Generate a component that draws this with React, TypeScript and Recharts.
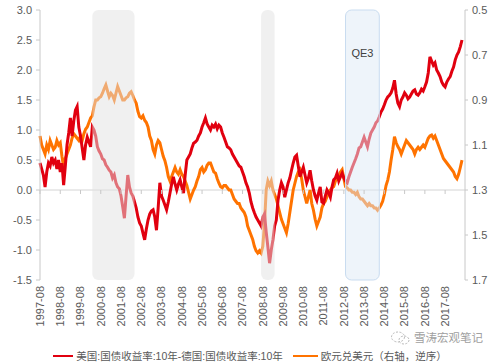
import { LineChart, Line, XAxis, YAxis, ReferenceArea, ReferenceLine, Legend } from "recharts";

// monthly values, starting 1997-08
const START_YEAR = 1997;
const START_MONTH = 8;

// 美国10年国债收益率 - 德国10年国债收益率 (left axis, %)
const spread = [
  0.45, 0.35, 0.25, 0.05, 0.3, 0.45, 0.4, 0.55, 0.45, 0.5, 0.35, 0.5,
  0.3, 0.45, 0.08, 0.4, 0.75, 0.95, 1.2, 0.9, 1.15, 1.33, 1.39, 1.05,
  0.9, 0.7, 0.5, 0.75, 0.88, 0.8, 0.72, 1.05, 1.0, 0.9, 0.72, 0.65,
  0.6, 0.52, 0.5, 0.42, 0.38, 0.33, 0.3, 0.2, 0.25, 0.12, 0.05, 0.02,
  -0.1, -0.28, -0.47, -0.1, 0.25, 0.05, -0.05, -0.1, -0.2, -0.3, -0.45, -0.55,
  -0.6, -0.72, -0.83, -0.65, -0.5, -0.4, -0.35, -0.33, -0.45, -0.67, -0.3, 0.12,
  -0.1, -0.17, -0.25, -0.33, -0.2, -0.05, 0.1, 0.22, 0.1, 0.0, 0.1, 0.17,
  0.05, -0.05, 0.25, 0.5, 0.55, 0.6, 0.7, 0.78, 0.8, 0.83, 0.9, 0.95,
  1.05, 1.12, 1.2, 1.1, 1.05, 1.0, 1.08, 1.05, 1.1, 1.02, 1.08, 1.05,
  0.95, 0.88, 0.8, 0.72, 0.7, 0.67, 0.6, 0.55, 0.5, 0.45, 0.4, 0.38,
  0.3, 0.22, 0.12, 0.05, -0.05, -0.2, -0.3, -0.38, -0.45, -0.5, -0.55, -0.6,
  -0.45, -0.4, -0.7, -0.95, -1.22, -1.0, -0.83, -0.6, -0.5, -0.17, 0.0, 0.12,
  0.05, -0.12, 0.0, 0.12, 0.2, 0.33, 0.45, 0.55, 0.58, 0.4, 0.22, 0.3,
  0.38, 0.25, 0.12, 0.2, 0.33, 0.15, 0.0, -0.1, -0.17, -0.05, 0.05, -0.2,
  -0.22, -0.1, 0.0, -0.05, -0.12, 0.05, 0.17, 0.2, 0.28, 0.15, 0.22, 0.28,
  0.2, 0.15, 0.12, 0.22, 0.3, 0.38, 0.45, 0.52, 0.6, 0.7, 0.72, 0.8,
  0.88, 0.8, 0.72, 0.85, 0.95, 1.0, 1.05, 1.12, 1.15, 1.22, 1.3, 1.35,
  1.42, 1.5, 1.55, 1.58, 1.62, 1.7, 1.83, 1.6, 1.45, 1.39, 1.5, 1.55,
  1.62, 1.58, 1.52, 1.55, 1.6, 1.65, 1.67, 1.6, 1.58, 1.62, 1.68, 1.65,
  1.72, 1.8, 1.95, 2.22, 2.15, 2.08, 2.12, 2.0, 1.95, 1.89, 1.8, 1.75,
  1.72, 1.8, 1.85, 1.89, 1.98, 2.05, 2.17, 2.25, 2.3, 2.39, 2.5,
];

// 欧元兑美元 (right axis, reversed)
const eurusd = [
  1.06, 1.1, 1.12, 1.14, 1.1, 1.12, 1.08, 1.1, 1.12, 1.11, 1.08, 1.1,
  1.09, 1.15, 1.2, 1.16, 1.14, 1.12, 1.1, 1.07, 1.05, 1.06, 1.07, 1.08,
  1.06, 1.08, 1.05, 1.03, 1.02, 1.0, 0.98, 0.97, 0.93, 0.9, 0.9, 0.89,
  0.885, 0.87, 0.85, 0.833, 0.86, 0.885, 0.87, 0.88, 0.9, 0.87, 0.84, 0.86,
  0.88, 0.9, 0.9, 0.89, 0.885, 0.87, 0.863, 0.88, 0.9, 0.915, 0.95, 0.974,
  0.98, 0.97, 0.99, 1.0, 1.02, 1.06, 1.08, 1.12, 1.14, 1.1, 1.08, 1.09,
  1.12, 1.15, 1.17, 1.2, 1.24, 1.26, 1.24, 1.22, 1.2, 1.22, 1.23, 1.21,
  1.23, 1.24, 1.26, 1.28, 1.31, 1.34, 1.32, 1.3, 1.285, 1.26, 1.24, 1.21,
  1.2, 1.22, 1.21, 1.19, 1.18, 1.18, 1.2, 1.22, 1.225, 1.25, 1.27, 1.285,
  1.29, 1.28, 1.28, 1.29, 1.3, 1.3, 1.32, 1.34, 1.35, 1.36, 1.36, 1.38,
  1.39, 1.4, 1.42, 1.46, 1.48, 1.5, 1.52, 1.55, 1.57, 1.58, 1.57, 1.58,
  1.55, 1.45, 1.3, 1.26, 1.28, 1.26, 1.3, 1.32, 1.34, 1.37, 1.4, 1.43,
  1.45, 1.47, 1.49, 1.45, 1.4, 1.35, 1.3, 1.27, 1.24, 1.22, 1.21, 1.25,
  1.3, 1.33, 1.36, 1.33, 1.3, 1.36, 1.39, 1.43, 1.46, 1.44, 1.42, 1.38,
  1.36, 1.35, 1.33, 1.31, 1.3, 1.29, 1.285, 1.26, 1.25, 1.24, 1.22, 1.21,
  1.25, 1.285, 1.29, 1.3, 1.3, 1.31, 1.31, 1.32, 1.31, 1.33, 1.34, 1.34,
  1.35, 1.36, 1.37, 1.36, 1.37, 1.37, 1.38, 1.38, 1.39, 1.38, 1.367, 1.35,
  1.32, 1.28, 1.256, 1.22, 1.167, 1.12, 1.063, 1.09, 1.107, 1.12, 1.14, 1.12,
  1.1, 1.08, 1.09, 1.1, 1.11, 1.12, 1.14, 1.12, 1.11, 1.12, 1.11, 1.1,
  1.11, 1.09, 1.07, 1.06, 1.056, 1.07, 1.06, 1.08, 1.1, 1.12, 1.14, 1.16,
  1.17, 1.18, 1.19, 1.2, 1.21, 1.22, 1.24, 1.25, 1.23, 1.2, 1.167,
];

const yearTicks = [
  "1997-08", "1998-08", "1999-08", "2000-08", "2001-08", "2002-08", "2003-08",
  "2004-08", "2005-08", "2006-08", "2007-08", "2008-08", "2009-08", "2010-08",
  "2011-08", "2012-08", "2013-08", "2014-08", "2015-08", "2016-08", "2017-08",
];
const leftTicks = [-1.5, -1.0, -0.5, 0, 0.5, 1.0, 1.5, 2.0, 2.5, 3.0];
const rightTicks = [0.5, 0.7, 0.9, 1.1, 1.3, 1.5, 1.7];

const grayPeriods = [
  ["2000-03", "2002-04"],
  ["2008-07", "2009-03"],
];
const qe3Period = ["2012-09", "2014-05"];

const RED = "#e1000f";
const ORANGE = "#ff7300";
const FONT = '"Liberation Sans", Arial, "Noto Sans CJK SC", sans-serif';

const months = spread.map((_, i) => {
  const t = START_MONTH - 1 + i;
  const y = START_YEAR + Math.floor(t / 12);
  const m = (t % 12) + 1;
  return `${y}-${String(m).padStart(2, "0")}`;
});

const data = months.map((month, i) => ({
  month,
  spread: spread[i],
  eurusd: eurusd[i],
  mark: yearTicks.includes(month) ? 0 : null,
}));

const YearTick = ({ x, y, payload }: any) => (
  <text
    x={x}
    y={y}
    transform={`rotate(-90 ${x} ${y})`}
    textAnchor="end"
    dy="0.35em"
    fontSize={11}
    fill="#595959"
    fontFamily={FONT}
  >
    {payload.value}
  </text>
);

// small tick marks hanging below the zero line
const ZeroMark = (p: any) => {
  if (p.cy == null || p.payload?.mark == null) return <g key={`m${p.index}`} />;
  return <line key={`m${p.index}`} x1={p.cx} y1={p.cy} x2={p.cx} y2={p.cy + 4} stroke="#c8c8c8" strokeWidth={1} />;
};

const bandShape = (fill: string, stroke: string) => (p: any) => (
  <rect
    x={p.x}
    y={p.y}
    width={p.width}
    height={p.height}
    rx={6}
    ry={6}
    fill={fill}
    fillOpacity={0.5}
    stroke={stroke}
    strokeWidth={1}
  />
);

const LegendContent = () => (
  <div
    style={{
      display: "flex",
      justifyContent: "center",
      alignItems: "center",
      paddingTop: 15,
      fontSize: 10.5,
      color: "#595959",
      fontFamily: FONT,
      lineHeight: "12px",
    }}
  >
    <span style={{ display: "inline-block", width: 20, height: 2, background: RED, marginRight: 3 }} />
    <span>美国:国债收益率:10年-德国:国债收益率:10年</span>
    <span style={{ display: "inline-block", width: 25, height: 2, background: ORANGE, marginLeft: 10, marginRight: 3 }} />
    <span>欧元兑美元（右轴，逆序）</span>
  </div>
);

export default function App() {
  return (
    <div style={{ position: "relative", width: 500, height: 364, background: "#fff" }}>
      <style>{"body{margin:0}"}</style>
      <LineChart width={500} height={364} data={data} margin={{ top: 10, right: 0, left: 0, bottom: 0 }}>
        <XAxis
          dataKey="month"
          ticks={yearTicks}
          interval={0}
          axisLine={false}
          tickLine={false}
          tickSize={0}
          tickMargin={6}
          height={55}
          padding={{ left: 0, right: 3 }}
          tick={<YearTick />}
        />
        <YAxis
          yAxisId="left"
          domain={[-1.5, 3]}
          ticks={leftTicks}
          width={40}
          tickFormatter={(v: number) => v.toFixed(1)}
          axisLine={{ stroke: "#c8c8c8" }}
          tickLine={{ stroke: "#c8c8c8" }}
          tickSize={4}
          tickMargin={4}
          tick={{ fontSize: 11, fill: "#595959", fontFamily: FONT }}
          allowDataOverflow
        />
        <YAxis
          yAxisId="right"
          orientation="right"
          reversed
          domain={[0.5, 1.7]}
          ticks={rightTicks}
          width={35}
          tickFormatter={(v: number) => v.toFixed(1)}
          axisLine={{ stroke: "#c8c8c8" }}
          tickLine={{ stroke: "#c8c8c8" }}
          tickSize={3}
          tickMargin={4}
          tick={{ fontSize: 11, fill: "#595959", fontFamily: FONT }}
          allowDataOverflow
        />
        <ReferenceLine yAxisId="left" y={0} stroke="#d4d4d4" />
        <Line
          yAxisId="left"
          dataKey="mark"
          stroke="none"
          dot={ZeroMark}
          activeDot={false}
          isAnimationActive={false}
          legendType="none"
        />
        <Line
          yAxisId="right"
          type="linear"
          dataKey="eurusd"
          stroke={ORANGE}
          strokeWidth={3}
          dot={false}
          isAnimationActive={false}
        />
        <Line
          yAxisId="left"
          type="linear"
          dataKey="spread"
          stroke={RED}
          strokeWidth={3}
          dot={false}
          isAnimationActive={false}
        />
        {grayPeriods.map(([a, b]) => (
          <ReferenceArea
            key={a}
            yAxisId="left"
            x1={a}
            x2={b}
            y1={-1.5}
            y2={3}
            zIndex={450}
            shape={bandShape("#e2e2e2", "none")}
          />
        ))}
        <ReferenceArea
          yAxisId="left"
          x1={qe3Period[0]}
          x2={qe3Period[1]}
          y1={-1.5}
          y2={3}
          zIndex={450}
          shape={bandShape("#dde9f6", "#c9dcf0")}
          label={{ value: "QE3", position: "insideTop", offset: 39, fontSize: 11, fill: "#404040", fontFamily: FONT }}
        />
        <Legend verticalAlign="bottom" height={29} content={() => <LegendContent />} />
      </LineChart>
      <div
        style={{
          position: "absolute",
          left: 390,
          top: 330,
          display: "flex",
          alignItems: "center",
          fontSize: 11.5,
          lineHeight: "14px",
          color: "#a0a0a0",
          fontFamily: FONT,
        }}
      >
        <svg width={22} height={16} style={{ marginRight: 2 }}>
          <ellipse cx={8} cy={7} rx={6.5} ry={5} fill="none" stroke="#b8b8b8" strokeDasharray="2 1.5" />
          <ellipse cx={14} cy={10} rx={5} ry={4} fill="none" stroke="#b8b8b8" strokeDasharray="2 1.5" />
        </svg>
        <span>雪涛宏观笔记</span>
      </div>
    </div>
  );
}
